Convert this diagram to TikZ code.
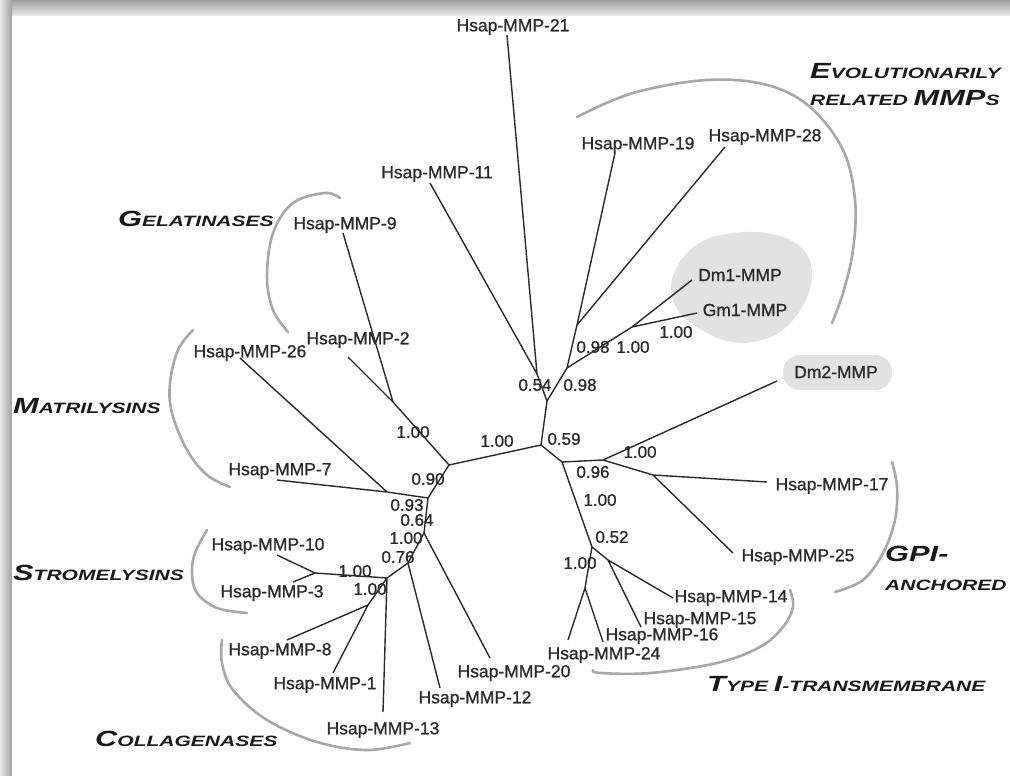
\documentclass[tikz,border=0pt]{standalone}
\usepackage{fontspec}
\setmainfont{Liberation Sans}
\newfontfamily\grpfont[FakeStretch=1.4]{Liberation Sans}
\newfontfamily\leaffont[FakeBold=0.9]{Liberation Sans}
\newcommand\gbig[1]{{\fontsize{22}{22}\selectfont #1}}
\newcommand\gsmall[1]{{\fontsize{15}{15}\selectfont #1}}
\definecolor{treeclr}{HTML}{2A2A2A}
\definecolor{brkclr}{HTML}{A8A8A8}
\definecolor{blobclr}{HTML}{E2E2E2}
\tikzset{
  leaf/.style={font=\leaffont\fontsize{17.5}{18}\selectfont, inner sep=0pt, text=treeclr},
  bsv/.style={font=\leaffont\fontsize{17}{18}\selectfont, inner sep=0pt, text=treeclr},
  branch/.style={line width=1.4pt, draw=treeclr},
  bracket/.style={line width=2.6pt, draw=brkclr, line cap=round},
  grp/.style={font=\grpfont\bfseries\itshape, inner sep=0pt, anchor=west, text=black!90}
}
\begin{document}
\begin{tikzpicture}[x=1pt,y=-1pt]
\useasboundingbox (0,0) rectangle (1010,776);
% frame and shadow
\fill[black!12] (0,0) rectangle (1010,776);
\shade[top color=black!38, bottom color=black!8] (0,0) rectangle (1010,16);
\shade[left color=black!8, right color=black!38] (0,0) rectangle (12,776);
\fill[white] (12,16) rectangle (1010,776);

% grey blobs
\fill[blobclr] plot[smooth cycle, tension=0.7] coordinates {(672,298) (687,253) (733,233) (790,240) (812,273) (793,320) (753,342) (707,333)};
\fill[blobclr, rounded corners=17pt] (783,355) rectangle (892,390);

% brackets
\draw[bracket] plot[smooth, tension=0.6] coordinates {(340,198) (325,193) (293,203) (273,233) (267,277) (273,310) (288,332)};
\draw[bracket] plot[smooth, tension=0.6] coordinates {(193,330) (178,350) (170,383) (172,413) (187,450) (207,475) (230,487)};
\draw[bracket] plot[smooth, tension=0.6] coordinates {(207,530) (195,553) (192,573) (197,593) (217,608) (247,613)};
\draw[bracket] plot[smooth, tension=0.6] coordinates {(222,640) (222,663) (233,690) (267,720) (317,742) (367,750) (410,743)};
\draw[bracket] plot[smooth, tension=0.6] coordinates {(790,590) (793,607) (783,627) (760,647) (717,663) (650,673) (600,673) (593,670)};
\draw[bracket] plot[smooth, tension=0.6] coordinates {(892,462) (897,487) (895,520) (883,553) (863,580) (835,592)};
\draw[bracket] plot[smooth, tension=0.6] coordinates {(577,117) (633,93) (707,80) (767,85) (810,107) (843,150) (855,200) (853,250) (843,293) (832,323)};

% internal nodes
\coordinate (A) at (449,465);
\coordinate (B) at (541,445);
\coordinate (C) at (547,401);
\coordinate (D) at (537,374);
\coordinate (E) at (567,368);
\coordinate (F) at (577,325);
\coordinate (G) at (632,327);
\coordinate (H) at (393,402);
\coordinate (I) at (428,498);
\coordinate (J) at (387,492);
\coordinate (K2) at (424,533);
\coordinate (V) at (408,563);
\coordinate (K) at (387,578);
\coordinate (L) at (368,605);
\coordinate (S) at (315,573);
\coordinate (M) at (562,462);
\coordinate (N) at (603,460);
\coordinate (P) at (653,475);
\coordinate (Q) at (592,547);
\coordinate (T) at (608,560);
\coordinate (R) at (585,588);

% leaf line ends
\coordinate (e21) at (507,35);
\coordinate (e11) at (430,183);
\coordinate (e19) at (615,153);
\coordinate (e28) at (725,147);
\coordinate (eDa) at (692,280);
\coordinate (eGa) at (697,313);
\coordinate (eDb) at (777,381);
\coordinate (e17) at (767,482);
\coordinate (e25) at (733,553);
\coordinate (e14) at (673,598);
\coordinate (e15) at (641,627);
\coordinate (e16) at (603,642);
\coordinate (e24) at (568,640);
\coordinate (e20) at (490,658);
\coordinate (e12) at (440,688);
\coordinate (e13) at (383,712);
\coordinate (e1) at (333,673);
\coordinate (e8) at (287,640);
\coordinate (e3) at (293,582);
\coordinate (e10) at (277,555);
\coordinate (e7) at (277,480);
\coordinate (e26) at (240,358);
\coordinate (e2) at (348,357);
\coordinate (e9) at (343,233);

% branches
\draw[branch] (A) -- (B) (B) -- (C) (C) -- (D) (C) -- (E)
  (D) -- (e21) (D) -- (e11) (E) -- (F) (F) -- (e19) (F) -- (e28)
  (E) -- (G) (G) -- (eDa) (G) -- (eGa);
\draw[branch] (A) -- (H) (H) -- (e9) (H) -- (e2) (A) -- (I) (I) -- (J)
  (J) -- (e26) (J) -- (e7) (I) -- (K2) (K2) -- (e20) (K2) -- (V)
  (V) -- (e12) (V) -- (K) (K) -- (S) (S) -- (e10) (S) -- (e3)
  (K) -- (L) (L) -- (e8) (L) -- (e1) (K) -- (e13);
\draw[branch] (B) -- (M) (M) -- (N) (N) -- (eDb) (N) -- (P) (P) -- (e17)
  (P) -- (e25) (M) -- (Q) (Q) -- (T) (T) -- (e14) (T) -- (e15)
  (Q) -- (R) (R) -- (e16) (R) -- (e24);

% leaf labels
\node[leaf] (m21) at (513,27) {Hsap-MMP-21};
\node[leaf] (m11) at (437,174) {Hsap-MMP-11};
\node[leaf] (m19) at (638,145) {Hsap-MMP-19};
\node[leaf] (m28) at (765,137) {Hsap-MMP-28};
\node[leaf] (dm1) at (740,275) {Dm1-MMP};
\node[leaf] (gm1) at (745,310) {Gm1-MMP};
\node[leaf] (dm2) at (836,372) {Dm2-MMP};
\node[leaf] (m17) at (832,486) {Hsap-MMP-17};
\node[leaf] (m25) at (798,557) {Hsap-MMP-25};
\node[leaf] (m14) at (731,598) {Hsap-MMP-14};
\node[leaf] (m15) at (700,620) {Hsap-MMP-15};
\node[leaf] (m16) at (662,636) {Hsap-MMP-16};
\node[leaf] (m24) at (604,655) {Hsap-MMP-24};
\node[leaf] (m20) at (514,673) {Hsap-MMP-20};
\node[leaf] (m12) at (475,699) {Hsap-MMP-12};
\node[leaf] (m13) at (383,730) {Hsap-MMP-13};
\node[leaf] (m1) at (325,685) {Hsap-MMP-1};
\node[leaf] (m8) at (280,651) {Hsap-MMP-8};
\node[leaf] (m3) at (272,593) {Hsap-MMP-3};
\node[leaf] (m10) at (268,546) {Hsap-MMP-10};
\node[leaf] (m7) at (280,471) {Hsap-MMP-7};
\node[leaf] (m26) at (250,353) {Hsap-MMP-26};
\node[leaf] (m2) at (358,340) {Hsap-MMP-2};
\node[leaf] (m9) at (345,225) {Hsap-MMP-9};

% bootstrap values
\node[bsv] (b1) at (497,441) {1.00};
\node[bsv] (b2) at (413,432) {1.00};
\node[bsv] (b3) at (428,479) {0.90};
\node[bsv] (b4) at (407,505) {0.93};
\node[bsv] (b5) at (417,520) {0.64};
\node[bsv] (b6) at (406,538) {1.00};
\node[bsv] (b7) at (398,557) {0.76};
\node[bsv] (b8) at (355,571) {1.00};
\node[bsv] (b9) at (370,589) {1.00};
\node[bsv] (b10) at (564,439) {0.59};
\node[bsv] (b11) at (535,385) {0.54};
\node[bsv] (b12) at (580,385) {0.98};
\node[bsv] (b13) at (593,347) {0.98};
\node[bsv] (b14) at (633,347) {1.00};
\node[bsv] (b15) at (676,332) {1.00};
\node[bsv] (b16) at (640,452) {1.00};
\node[bsv] (b17) at (593,472) {0.96};
\node[bsv] (b18) at (600,500) {1.00};
\node[bsv] (b19) at (612,537) {0.52};
\node[bsv] (b20) at (580,563) {1.00};

% group labels
\node[grp] (g1) at (118,219) {\gbig{G}\gsmall{ELATINASES}};
\node[grp] (g2) at (810,71) {\gbig{E}\gsmall{VOLUTIONARILY}};
\node[grp] (g3) at (810,98) {\gsmall{RELATED }\gbig{MMP}\gsmall{S}};
\node[grp] (g4) at (13,406) {\gbig{M}\gsmall{ATRILYSINS}};
\node[grp] (g5) at (13,573) {\gbig{S}\gsmall{TROMELYSINS}};
\node[grp] (g6) at (95,739) {\gbig{C}\gsmall{OLLAGENASES}};
\node[grp] (g7) at (885,554) {\gbig{GPI-}};
\node[grp] (g8) at (885,585) {\gsmall{ANCHORED}};
\node[grp] (g9) at (707,684) {\gbig{T}\gsmall{YPE }\gbig{I}\gsmall{-TRANSMEMBRANE}};
\end{tikzpicture}
\end{document}
